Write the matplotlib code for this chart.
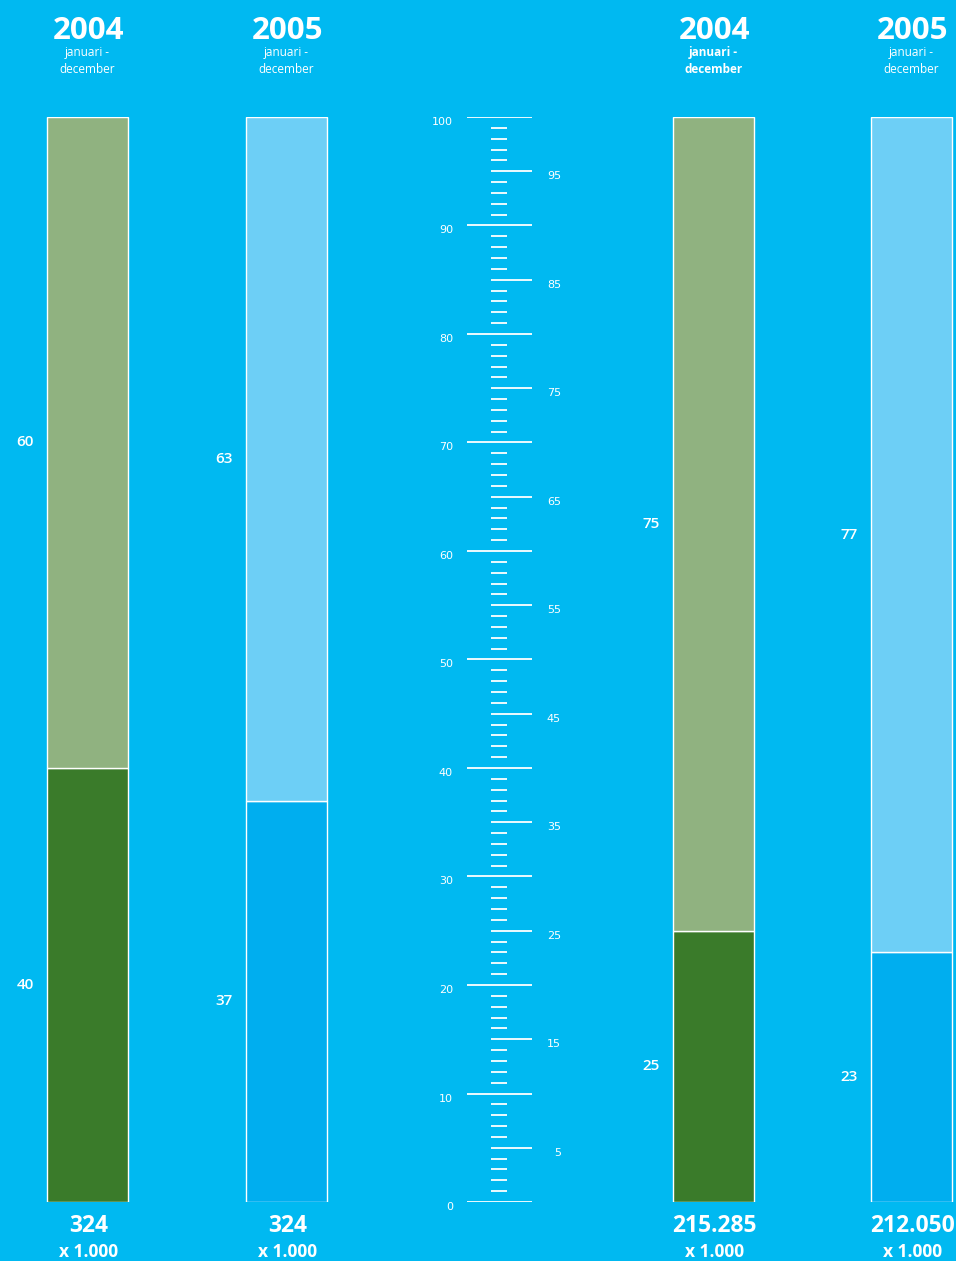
import matplotlib
matplotlib.use("Agg")
import matplotlib.pyplot as plt

plt.rcParams['font.family'] = ['Open Sans', 'DejaVu Sans']

# ---- data ----
years = ["2004", "2005", "2004", "2005"]
subtitle = "januari -\ndecember"
bottom_share = [40, 37, 25, 23]
top_share = [60, 63, 75, 77]
totals = ["324", "324", "215.285", "212.050"]
unit_label = "x 1.000"
scale_values = list(range(0, 101))

# ---- styling ----
BG = "#00B9F1"
top_colors = ["#90B280", "#6DCFF6", "#90B280", "#6DCFF6"]
bottom_colors = ["#3A7B2A", "#00AEEF", "#3A7B2A", "#00AEEF"]
centers = [87.5, 286.5, 713.5, 911.5]
bar_w = 81
sub_bold = [False, False, True, False]

W, H = 956, 1261
fig = plt.figure(figsize=(W / 100, H / 100), dpi=100, facecolor=BG)
y0_px, y100_px = 1202, 117
ax = fig.add_axes([0, (H - y0_px) / H, 1, (y0_px - y100_px) / H])
ax.set_xlim(0, W)
ax.set_ylim(0, 100)
ax.axis("off")
ax.set_facecolor(BG)

px = 100 / (y0_px - y100_px)  # data units per pixel (vertical)

ax.bar(centers, bottom_share, width=bar_w, color=bottom_colors,
       edgecolor="white", linewidth=1.0)
ax.bar(centers, top_share, bottom=bottom_share, width=bar_w, color=top_colors,
       edgecolor="white", linewidth=1.0)

for c, b, t in zip(centers, bottom_share, top_share):
    lx = c - bar_w / 2 - 13
    ax.text(lx, b / 2, str(b), ha="right", va="center", color="white",
            fontsize=11, fontweight="semibold", clip_on=False)
    ax.text(lx, b + t / 2, str(t), ha="right", va="center", color="white",
            fontsize=11, fontweight="semibold", clip_on=False)

# headers
for c, yr, sb in zip(centers, years, sub_bold):
    ax.text(c + 1, 100 + (117 - 31) * px, yr, ha="center", va="center",
            color="white", fontsize=22.5, fontweight="bold", clip_on=False)
    ax.text(c, 100 + (117 - 53) * px, "januari -", ha="center", va="center",
            color="white", fontsize=8.5, fontweight="bold" if sb else "normal",
            clip_on=False)
    ax.text(c, 100 + (117 - 70) * px, "december", ha="center", va="center",
            color="white", fontsize=8.5, fontweight="bold" if sb else "normal",
            clip_on=False)

# totals
for c, tot in zip(centers, totals):
    ax.text(c + 1, -(1226 - y0_px) * px, tot, ha="center", va="center",
            color="white", fontsize=16.5, fontweight="bold", clip_on=False)
    ax.text(c + 1, -(1252 - y0_px) * px, unit_label, ha="center", va="center",
            color="white", fontsize=12.5, fontweight="bold", clip_on=False)

# scale
for v in scale_values:
    if v % 10 == 0:
        x1, x2 = 467, 532
    elif v % 5 == 0:
        x1, x2 = 491, 532
    else:
        x1, x2 = 491, 507
    ax.hlines(v, x1, x2, color="white", linewidth=1.3)
    if v % 10 == 0:
        ax.text(453, v - 5 * px, str(v), ha="right", va="center",
                color="white", fontsize=8, clip_on=False,
                family=['DejaVu Sans'])
    elif v % 5 == 0:
        ax.text(561, v - 5 * px, str(v), ha="right", va="center",
                color="white", fontsize=8, clip_on=False,
                family=['DejaVu Sans'])

fig.savefig("out.png", dpi=100, facecolor=BG)
